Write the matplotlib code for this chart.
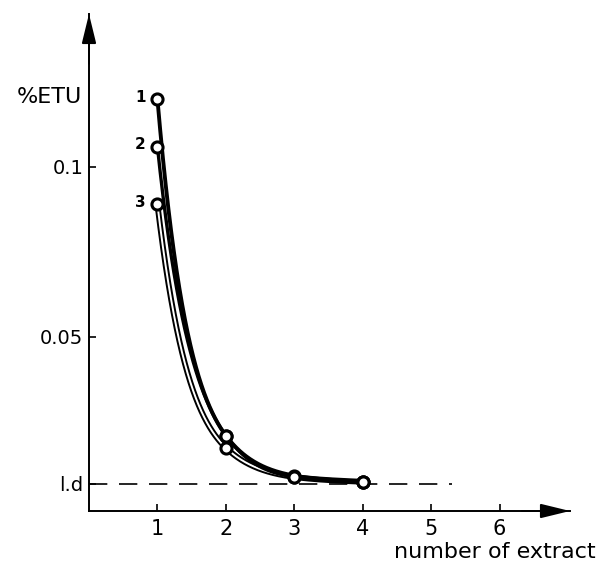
import numpy as np
import matplotlib.pyplot as plt

# extraction data: %ETU found in each successive extract
extracts = [1, 2, 3, 4]
etu_1 = [0.120, 0.0210, 0.0092, 0.0074]
etu_2 = [0.106, 0.0210, 0.0088, 0.0074]
etu_3 = [0.089, 0.0174, 0.0088, 0.0074]
curve_names = ['1', '2', '3']
limit_detection = 0.0068
x_ticks = [1, 2, 3, 4, 5, 6]
y_ticks = [limit_detection, 0.05, 0.1]
y_tick_labels = ['l.d', '0.05', '0.1']


def pchip(x, y, xs):
    """monotone cubic hermite through the points (Fritsch-Carlson)"""
    x = np.asarray(x, float)
    y = np.asarray(y, float)
    h = np.diff(x)
    d = np.diff(y) / h
    m = np.zeros_like(y)
    m[0], m[-1] = d[0], d[-1]
    for i in range(1, len(y) - 1):
        if d[i - 1] * d[i] > 0:
            m[i] = 2.0 / (1.0 / d[i - 1] + 1.0 / d[i])
    idx = np.clip(np.searchsorted(x, xs) - 1, 0, len(h) - 1)
    t = (xs - x[idx]) / h[idx]
    h00 = 2 * t**3 - 3 * t**2 + 1
    h10 = t**3 - 2 * t**2 + t
    h01 = -2 * t**3 + 3 * t**2
    h11 = t**3 - t**2
    return h00 * y[idx] + h10 * h[idx] * m[idx] + h01 * y[idx + 1] + h11 * h[idx] * m[idx + 1]


def smooth(x, y):
    # decay curve drawn through the points, smoothed in log space above the l.d floor
    xs = np.linspace(x[0], x[-1], 300)
    floor = limit_detection * 0.97
    ly = np.log(np.asarray(y) - floor)
    return xs, np.exp(pchip(x, ly, xs)) + floor


fig = plt.figure(figsize=(5.97, 5.64), dpi=100)
ax = fig.add_axes([89 / 597, 53 / 564, 481 / 597, 497 / 564])
ax.set_xlim(0, 7.03)
ax.set_ylim(-0.0012, 0.1450)

for s in ['top', 'right']:
    ax.spines[s].set_visible(False)
for s in ['left', 'bottom']:
    ax.spines[s].set_linewidth(1.4)

# axis arrows
arrow = dict(arrowstyle='-|>,head_length=0.9,head_width=0.22', color='k', lw=1.4,
             mutation_scale=20, shrinkA=0, shrinkB=0)
ax.annotate('', xy=(0, 1.0), xytext=(0, 0.9), xycoords='axes fraction', arrowprops=arrow)
ax.annotate('', xy=(1.0, 0), xytext=(0.9, 0), xycoords='axes fraction', arrowprops=arrow)

# limit of detection
ax.plot([0, 5.3], [limit_detection, limit_detection], color='k', lw=1.2,
        dashes=(11, 7), clip_on=False)

xs, ys = smooth(extracts, etu_3)
ax.plot(xs, ys, color='k', lw=4.2, solid_capstyle='butt', zorder=3)
ax.plot(xs, ys, color='white', lw=1.4, solid_capstyle='butt', zorder=3)
xs, ys = smooth(extracts, etu_2)
ax.plot(xs, ys, color='k', lw=2.4, zorder=4)
xs, ys = smooth(extracts, etu_1)
ax.plot(xs, ys, color='k', lw=2.8, zorder=4)

for vals, name in zip([etu_1, etu_2, etu_3], curve_names):
    ax.plot(extracts, vals, 'o', ms=8, mfc='white', mec='k', mew=2.2, zorder=5)
    ax.text(extracts[0] - 0.17, vals[0] + 0.0005, name, ha='right', va='center',
            fontsize=11, fontweight='bold')

ax.set_xticks(x_ticks)
ax.set_xticklabels([str(v) for v in x_ticks])
ax.set_yticks(y_ticks)
ax.set_yticklabels(y_tick_labels)
ax.tick_params(axis='both', direction='in', length=5, width=1.2, labelsize=14)
ax.tick_params(axis='x', labelsize=15, pad=6)
ax.tick_params(axis='y', pad=4)

ax.text(-0.1, 0.1205, '%ETU', ha='right', va='center', fontsize=16)
fig.text(596 / 597, 12 / 564, 'number of extract', ha='right', va='center',
         fontsize=16)

fig.savefig('out.png', dpi=100)
